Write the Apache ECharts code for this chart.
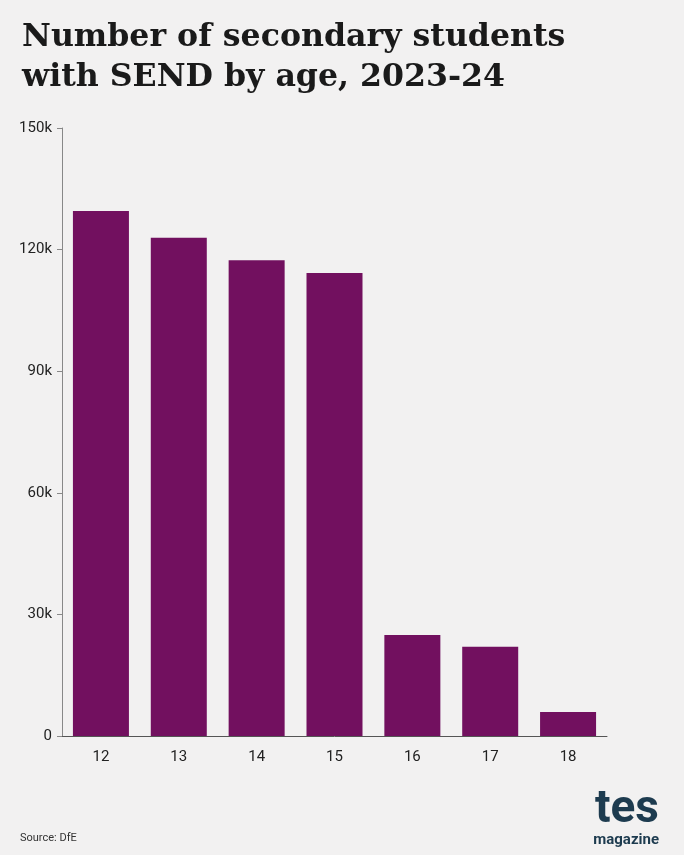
<!DOCTYPE html>
<html>
<head>
<meta charset="utf-8">
<script src="https://cdn.jsdelivr.net/npm/echarts@6/dist/echarts.min.js"></script>
<style>
html, body { margin: 0; padding: 0; background: #f2f1f1; }
#main { width: 684px; height: 855px; }
</style>
</head>
<body>
<div id="main"></div>
<script>
// data
var ages = ['12', '13', '14', '15', '16', '17', '18'];
var students = [129500, 122900, 117400, 114200, 24900, 22000, 5900];
var yTicks = [0, 30000, 60000, 90000, 120000, 150000];

var myChart = echarts.init(document.getElementById('main'));

var option = {
    backgroundColor: '#f2f1f1',
    title: [{
        text: 'Number of secondary students\nwith SEND by age, 2023-24',
        left: 17,
        top: 13,
        textStyle: {
            fontFamily: 'DejaVu Serif',
            fontWeight: 'bold',
            fontSize: 31.6,
            lineHeight: 40,
            color: '#1a1a1a'
        }
    }, {
        text: 'Source: DfE',
        left: 15,
        top: 828,
        textStyle: { fontFamily: 'Roboto', fontSize: 11, fontWeight: 'normal', color: '#333' }
    }, {
        text: 'tes',
        right: 20,
        top: 782,
        textStyle: { fontFamily: 'Roboto', fontSize: 46, fontWeight: 'bold', color: '#1d3b4f' }
    }, {
        text: 'magazine',
        right: 20,
        top: 828,
        textStyle: { fontFamily: 'Roboto', fontSize: 15, fontWeight: 'bold', color: '#1d3b4f' }
    }],
    grid: { left: 62, right: 77, top: 128, bottom: 119 },
    xAxis: {
        type: 'category',
        data: ages,
        axisLine: { lineStyle: { color: '#555' } },
        axisTick: { show: false },
        axisLabel: { fontFamily: 'Roboto', fontSize: 15, color: '#222', margin: 14 }
    },
    yAxis: {
        type: 'value',
        min: 0,
        max: yTicks[yTicks.length - 1],
        interval: 30000,
        axisLine: { show: true, lineStyle: { color: '#888' } },
        axisTick: { show: true, length: 5, lineStyle: { color: '#888' } },
        splitLine: { show: false },
        axisLabel: {
            fontFamily: 'Roboto', fontSize: 15, color: '#222', margin: 10,
            formatter: function (v) { return v === 0 ? '0' : (v / 1000) + 'k'; }
        }
    },
    series: [{
        type: 'bar',
        data: students,
        barWidth: 56,
        itemStyle: { color: '#72105f' }
    }]
};

myChart.setOption(option);
</script>
</body>
</html>
